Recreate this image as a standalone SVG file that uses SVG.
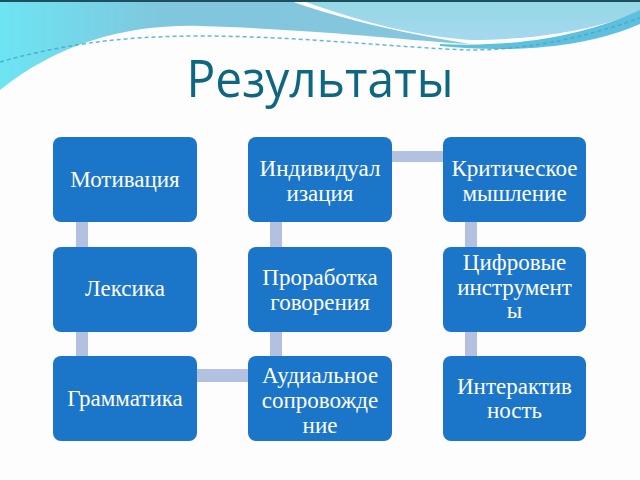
<svg xmlns="http://www.w3.org/2000/svg" width="640" height="480" viewBox="0 0 640 480">
<defs>
<linearGradient id="gLeft" x1="0" y1="0" x2="1" y2="0">
<stop offset="0" stop-color="#6DE4F2"/>
<stop offset="0.35" stop-color="#80C6DE"/>
<stop offset="1" stop-color="#86C6DE"/>
</linearGradient>
<linearGradient id="gRight" x1="0" y1="0" x2="0" y2="1">
<stop offset="0" stop-color="#94D8E4"/>
<stop offset="1" stop-color="#A6D8F0"/>
</linearGradient>
<style>
.box{fill:#1B75C9;}
.con{fill:#B3C1E0;}
.lbl{font-family:"Liberation Serif","DejaVu Serif",serif;font-size:23px;fill:#FFFFFF;text-anchor:middle;}
.title{font-family:"Open Sans","Noto Sans",sans-serif;font-size:52px;fill:#0F6680;text-anchor:middle;}
</style>
</defs>
<rect x="0" y="0" width="640" height="480" fill="#FDFDFD"/>
<g id="background">
<path d="M0,0 L288,0 C330,16 400,33 470,44 C400,40 330,30 200,26 C130,24 60,42 0,90 Z" fill="url(#gLeft)"/>
<path d="M300,0 L640,0 L640,12 C600,28 540,40 470,40 C410,36 350,18 300,0 Z" fill="url(#gRight)"/>
<path d="M440,44 C520,48 590,34 640,10 L640,24 C590,46 520,54 440,46 Z" fill="#5EC0DC"/>
<path d="M0,62 C60,45 120,36 200,36 C300,36 400,48 470,50 C540,50 600,32 640,18" fill="none" stroke="#3FA6D2" stroke-width="1.5" stroke-dasharray="4 3" opacity="0.8"/>
<rect x="0" y="0" width="640" height="2" fill="#1E4F5E"/>
</g>
<text class="title" x="320" y="97" textLength="267" lengthAdjust="spacingAndGlyphs">Результаты</text>
<g id="connectors">
<rect class="con" x="76" y="222" width="12" height="25"/>
<rect class="con" x="76" y="332" width="12" height="24"/>
<rect class="con" x="270" y="222" width="12" height="25"/>
<rect class="con" x="270" y="332" width="12" height="24"/>
<rect class="con" x="465" y="222" width="12" height="25"/>
<rect class="con" x="465" y="332" width="12" height="24"/>
<rect class="con" x="392" y="151" width="51" height="11"/>
<rect class="con" x="197" y="369" width="51" height="13"/>
</g>
<g id="n1"><rect class="box" x="53" y="137" width="144" height="85" rx="8"/><text class="lbl" x="125" y="187">Мотивация</text></g>
<g id="n2"><rect class="box" x="248" y="137" width="144" height="85" rx="8"/><text class="lbl" x="320" y="176">Индивидуал</text><text class="lbl" x="320" y="201">изация</text></g>
<g id="n3"><rect class="box" x="443" y="137" width="143" height="85" rx="8"/><text class="lbl" x="514.5" y="176">Критическое</text><text class="lbl" x="514.5" y="201">мышление</text></g>
<g id="n4"><rect class="box" x="53" y="247" width="144" height="85" rx="8"/><text class="lbl" x="125" y="296">Лексика</text></g>
<g id="n5"><rect class="box" x="248" y="247" width="144" height="85" rx="8"/><text class="lbl" x="320" y="285">Проработка</text><text class="lbl" x="320" y="310">говорения</text></g>
<g id="n6"><rect class="box" x="443" y="247" width="143" height="85" rx="8"/><text class="lbl" x="514.5" y="270">Цифровые</text><text class="lbl" x="514.5" y="295">инструмент</text><text class="lbl" x="514.5" y="318">ы</text></g>
<g id="n7"><rect class="box" x="53" y="356" width="144" height="85" rx="8"/><text class="lbl" x="125" y="406">Грамматика</text></g>
<g id="n8"><rect class="box" x="248" y="356" width="144" height="85" rx="8"/><text class="lbl" x="320" y="383">Аудиальное</text><text class="lbl" x="320" y="408">сопровожде</text><text class="lbl" x="320" y="433">ние</text></g>
<g id="n9"><rect class="box" x="443" y="356" width="143" height="85" rx="8"/><text class="lbl" x="514.5" y="394">Интерактив</text><text class="lbl" x="514.5" y="418">ность</text></g>
</svg>
